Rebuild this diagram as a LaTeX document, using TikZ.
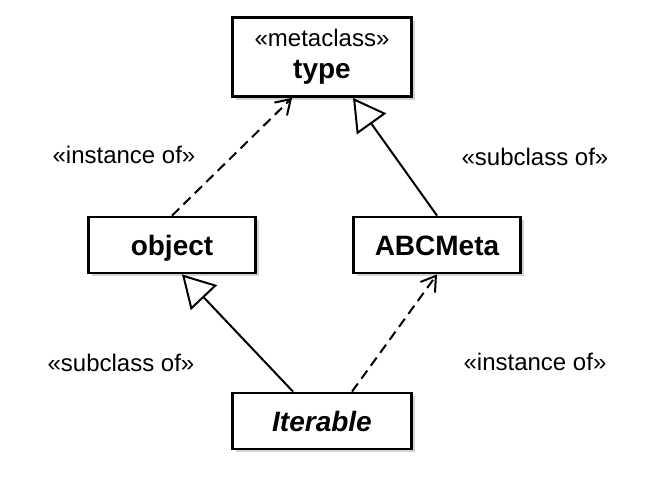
\documentclass[tikz,border=0pt]{standalone}
\usepackage{fontspec}
\setmainfont{Liberation Sans}
\usetikzlibrary{arrows.meta,shadows}

\tikzset{
  classbox/.style={draw, line width=1.4pt, fill=white, minimum width=83.5pt, minimum height=28pt,
    inner sep=0pt, font=\fontsize{14}{16}\selectfont\bfseries,
    drop shadow={shadow xshift=1.5pt, shadow yshift=-1.5pt, opacity=0.35}},
  oneline/.style={text height=10pt, text depth=0pt},
  stereo/.style={font=\fontsize{12}{14}\selectfont},
  instanceof/.style={dash pattern=on 5pt off 3pt, line width=1pt,
    -{Straight Barb[length=7pt,width=9pt,line width=1pt]}},
  subclassof/.style={line width=1pt, -{Triangle[open,length=16pt,width=18pt,line width=1pt]}},
}

\begin{document}
\begin{tikzpicture}[x=0.5pt,y=-0.5pt]
  % Fix the canvas to the reference size
  \useasboundingbox (0,0) rectangle (665,479);

  % Draw the class boxes
  \node[classbox, minimum width=89.5pt, minimum height=39.5pt, align=center] (type) at (322,57)
    {{\fontsize{12}{16}\selectfont\mdseries «metaclass»}\\type};
  \node[classbox, oneline] (object) at (172,245) {object};
  \node[classbox, oneline] (abcmeta) at (437,245) {ABCMeta};
  \node[classbox, oneline, minimum width=89.5pt] (iterable) at (322,421) {\itshape Iterable};

  % Draw the relations between the classes
  \draw[instanceof] (object.north) -- ([xshift=-15pt]type.south);
  \draw[subclassof] (abcmeta.north) -- ([xshift=15.5pt]type.south);
  \draw[subclassof] ([xshift=-14.5pt]iterable.north) -- ([xshift=5pt]object.south);
  \draw[instanceof] ([xshift=15pt]iterable.north) -- (abcmeta.south);

  % Label the relations
  \node[stereo] (inst1) at (124,155) {«instance of»};
  \node[stereo] (sub1) at (535,157) {«subclass of»};
  \node[stereo] (sub2) at (121,363) {«subclass of»};
  \node[stereo] (inst2) at (535,362) {«instance of»};
\end{tikzpicture}
\end{document}
